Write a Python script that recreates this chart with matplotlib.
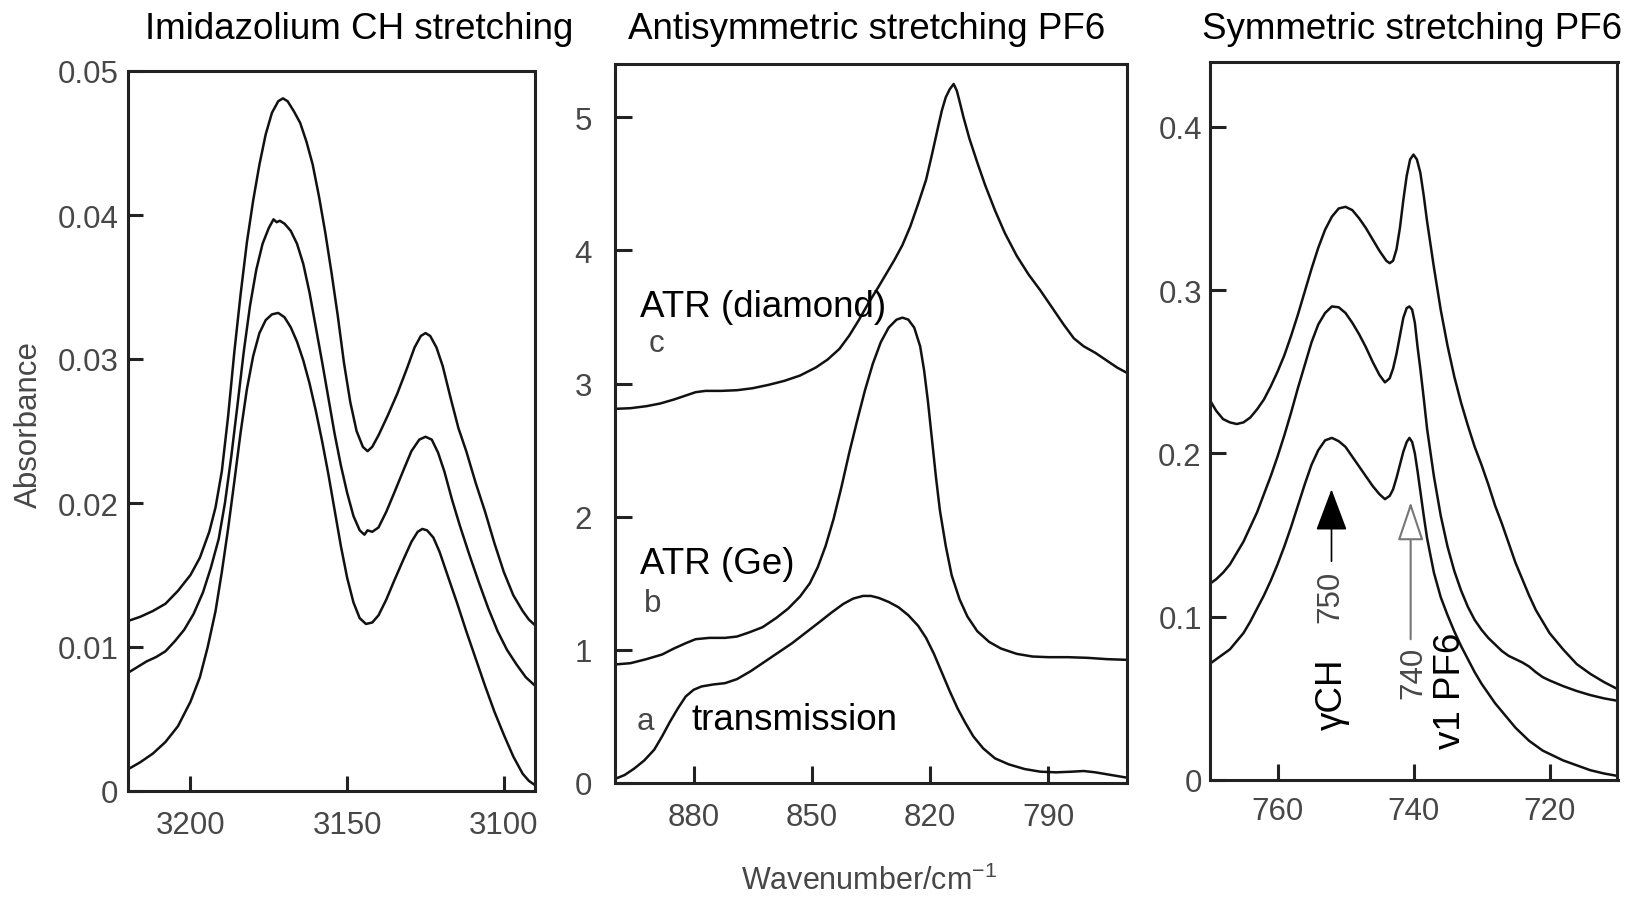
import matplotlib
matplotlib.use('Agg')
import matplotlib.pyplot as plt

# ---------------- data ----------------
# Panel 1: Imidazolium CH stretching (three spectra)
ch_wn_top = [3220, 3216, 3212, 3208, 3204, 3200, 3197, 3194, 3192, 3190, 3188, 3186, 3184, 3182,
             3180, 3178, 3176, 3174, 3172, 3170.5, 3169, 3167, 3165, 3163, 3161, 3159, 3157, 3155,
             3153, 3151, 3149, 3147, 3145, 3143.5, 3142, 3140, 3137, 3134, 3131, 3128.5, 3126.5,
             3125, 3123.5, 3121.5, 3119.5, 3117, 3114.5, 3112, 3109, 3106, 3103, 3100, 3097, 3094,
             3092, 3090]
ch_abs_top = [0.0118, 0.0121, 0.0125, 0.0130, 0.0139, 0.0150, 0.0162, 0.0180, 0.0197, 0.0222,
              0.0260, 0.0305, 0.0345, 0.0381, 0.0410, 0.0435, 0.0456, 0.0471, 0.0479, 0.0481,
              0.0479, 0.0472, 0.0464, 0.0451, 0.0435, 0.0413, 0.0388, 0.0360, 0.0330, 0.0297,
              0.0270, 0.0250, 0.0239, 0.0236, 0.0239, 0.0247, 0.0261, 0.0276, 0.0293, 0.0308,
              0.0316, 0.0318, 0.0316, 0.0308, 0.0295, 0.0273, 0.0252, 0.0236, 0.0214, 0.0194,
              0.0172, 0.0152, 0.0136, 0.0125, 0.0119, 0.0115]

ch_wn_mid = [3220, 3217, 3214, 3211, 3208, 3205, 3202, 3199, 3196, 3193.5, 3191, 3189, 3187, 3185,
             3183, 3181, 3179, 3177, 3175, 3173.5, 3172.5, 3171.5, 3170, 3168, 3166, 3164, 3162,
             3160, 3158, 3156, 3154, 3152, 3150, 3148, 3146, 3144.5, 3143.5, 3142, 3140, 3137.5,
             3135, 3132, 3129.5, 3127, 3125, 3123, 3121, 3119, 3116.5, 3114, 3111, 3108, 3105, 3102,
             3099, 3096, 3093, 3090]
ch_abs_mid = [0.0082, 0.0086, 0.0090, 0.0093, 0.0097, 0.0104, 0.0112, 0.0123, 0.0138, 0.0155,
              0.0175, 0.0200, 0.0232, 0.0268, 0.0305, 0.0337, 0.0362, 0.0380, 0.0391, 0.0397,
              0.0395, 0.0396, 0.0394, 0.0389, 0.0380, 0.0366, 0.0346, 0.0322, 0.0298, 0.0273,
              0.0248, 0.0226, 0.0207, 0.0191, 0.0181, 0.0178, 0.0181, 0.0180, 0.0183, 0.0194,
              0.0207, 0.0223, 0.0236, 0.0244, 0.0246, 0.0244, 0.0235, 0.0222, 0.0202, 0.0184,
              0.0164, 0.0145, 0.0127, 0.0111, 0.0098, 0.0088, 0.0079, 0.0073]

ch_wn_bot = [3220, 3216, 3212, 3208, 3204, 3200, 3197, 3194.5, 3192, 3190, 3188, 3186, 3184, 3182,
             3180, 3178, 3176, 3174, 3172, 3170, 3168, 3166, 3164, 3162, 3160, 3158, 3156, 3154,
             3152, 3150, 3148, 3146, 3144, 3142, 3140, 3137.5, 3135, 3132, 3129.5, 3127.5, 3126,
             3124.5, 3122.5, 3120.5, 3118, 3115, 3112, 3109, 3106, 3103, 3100, 3097, 3094, 3092,
             3090]
ch_abs_bot = [0.0015, 0.0020, 0.0026, 0.0034, 0.0045, 0.0062, 0.0079, 0.0100, 0.0125, 0.0152,
              0.0182, 0.0215, 0.0249, 0.0279, 0.0302, 0.0318, 0.0327, 0.0331, 0.0332, 0.0329,
              0.0322, 0.0312, 0.0299, 0.0283, 0.0264, 0.0243, 0.0220, 0.0195, 0.0170, 0.0148,
              0.0131, 0.0120, 0.0116, 0.0117, 0.0122, 0.0133, 0.0146, 0.0161, 0.0173, 0.0180,
              0.0182, 0.0181, 0.0176, 0.0166, 0.0150, 0.0131, 0.0111, 0.0092, 0.0073, 0.0055,
              0.0039, 0.0024, 0.0012, 0.0007, 0.0004]

# Panel 2: Antisymmetric stretching PF6 (c = ATR diamond, b = ATR Ge, a = transmission)
as_wn_c = [900, 896, 892, 888.5, 885, 882, 879.5, 877, 873, 869, 865, 861, 857, 853, 849, 846, 843,
           840.5, 838, 835.5, 833, 831, 829, 827, 825, 823, 821, 819.5, 818, 817, 816, 815, 814,
           813.2, 812.5, 811.5, 810, 808, 806, 803.5, 801, 798, 795, 792, 789, 786, 783.5, 781,
           778, 775, 772.5, 770]
as_abs_c = [2.81, 2.815, 2.83, 2.85, 2.88, 2.91, 2.935, 2.945, 2.945, 2.95, 2.965, 2.99, 3.02, 3.06,
            3.12, 3.18, 3.26, 3.36, 3.48, 3.61, 3.73, 3.83, 3.93, 4.04, 4.18, 4.35, 4.53, 4.72,
            4.92, 5.05, 5.15, 5.21, 5.25, 5.20, 5.12, 5.00, 4.84, 4.66, 4.49, 4.30, 4.13, 3.96,
            3.82, 3.70, 3.57, 3.44, 3.34, 3.28, 3.23, 3.17, 3.12, 3.08]

as_wn_b = [900, 896, 892, 888, 885, 882, 879.5, 876, 872, 869, 866, 862.5, 859, 856, 853, 850.5,
           848.5, 846.5, 844.5, 842.5, 840.5, 838.5, 836.5, 834.5, 832.5, 830.5, 828.5, 827, 825.5,
           824, 822.5, 821.5, 820.5, 819.5, 818.5, 817.5, 816, 814.5, 812.5, 810.5, 808, 805, 802,
           798, 794, 790, 785, 780, 775, 770]
as_abs_b = [0.89, 0.90, 0.93, 0.965, 1.01, 1.05, 1.08, 1.09, 1.09, 1.10, 1.13, 1.17, 1.24, 1.31,
            1.40, 1.50, 1.62, 1.78, 1.98, 2.22, 2.48, 2.72, 2.95, 3.15, 3.31, 3.42, 3.48, 3.495,
            3.48, 3.42, 3.28, 3.10, 2.86, 2.58, 2.30, 2.05, 1.78, 1.56, 1.38, 1.25, 1.14, 1.06,
            1.01, 0.97, 0.95, 0.945, 0.945, 0.94, 0.93, 0.925]

as_wn_a = [900, 897.5, 895, 892.5, 890, 888, 886, 884, 882, 880, 878, 875, 872, 869, 865.5, 862,
           858.5, 855, 851.5, 848, 845, 842, 839.5, 837, 835, 833, 830.5, 828, 825.5, 823, 821,
           819, 817, 815, 813, 811, 809, 806.5, 803.5, 800, 796, 792, 788, 784, 781, 778, 774, 770]
as_abs_a = [0.03, 0.06, 0.11, 0.17, 0.25, 0.35, 0.46, 0.56, 0.65, 0.70, 0.725, 0.74, 0.75, 0.78,
            0.84, 0.91, 0.98, 1.05, 1.13, 1.21, 1.28, 1.345, 1.385, 1.405, 1.405, 1.39, 1.36, 1.32,
            1.26, 1.18, 1.09, 0.97, 0.83, 0.69, 0.56, 0.45, 0.35, 0.26, 0.185, 0.14, 0.105, 0.085,
            0.08, 0.085, 0.09, 0.08, 0.06, 0.04]

# Panel 3: Symmetric stretching PF6
s_wn_top = [770, 769, 768, 767, 766, 765, 764, 763, 762, 761, 760, 759, 758, 757, 756, 755, 754, 753,
            752, 751, 750, 749, 748, 747, 746, 745, 744, 743.5, 743, 742.5, 742, 741.5, 741, 740.5,
            740, 739.5, 739, 738.5, 738, 737, 736, 735, 734, 733, 732, 731, 730, 729, 728, 727, 726,
            725, 724, 723, 722, 721, 720, 718, 716, 714, 712, 710]
s_abs_top = [0.233, 0.226, 0.221, 0.219, 0.218, 0.219, 0.222, 0.227, 0.233, 0.241, 0.250, 0.260,
             0.272, 0.285, 0.299, 0.313, 0.326, 0.337, 0.345, 0.350, 0.351, 0.349, 0.344, 0.338,
             0.331, 0.324, 0.318, 0.3165, 0.318, 0.325, 0.338, 0.355, 0.370, 0.380, 0.383, 0.380,
             0.372, 0.358, 0.342, 0.314, 0.288, 0.266, 0.247, 0.231, 0.217, 0.204, 0.193, 0.181,
             0.168, 0.157, 0.145, 0.133, 0.123, 0.113, 0.104, 0.097, 0.090, 0.080, 0.071, 0.065,
             0.060, 0.0557]

s_wn_mid = [770, 769, 768, 767, 766, 765, 764, 763, 762, 761, 760, 759, 758, 757, 756, 755, 754, 753,
            752, 751, 750, 749, 748, 747, 746, 745, 744.2, 743.5, 743, 742.5, 742, 741.5, 741,
            740.6, 740.2, 739.8, 739.4, 739, 738.5, 738, 737, 736, 735, 734, 733, 732, 731, 730,
            729, 728, 727, 726, 725, 724, 723, 722, 721, 720, 718, 716, 714, 712, 710]
s_abs_mid = [0.120, 0.123, 0.127, 0.132, 0.139, 0.146, 0.155, 0.164, 0.175, 0.186, 0.198, 0.211,
             0.225, 0.240, 0.254, 0.268, 0.279, 0.286, 0.290, 0.2895, 0.286, 0.280, 0.273, 0.265,
             0.256, 0.248, 0.2435, 0.246, 0.252, 0.261, 0.272, 0.283, 0.289, 0.290, 0.288, 0.280,
             0.265, 0.252, 0.234, 0.215, 0.186, 0.162, 0.143, 0.128, 0.116, 0.106, 0.098, 0.092,
             0.087, 0.083, 0.079, 0.076, 0.074, 0.072, 0.0695, 0.066, 0.063, 0.061, 0.0575, 0.0545,
             0.052, 0.050, 0.0485]

s_wn_bot = [770, 769, 768, 767, 766, 765, 764, 763, 762, 761, 760, 759, 758, 757, 756, 755, 754, 753,
            752, 751, 750, 749, 748, 747, 746, 745, 744.2, 743.5, 743, 742.5, 742, 741.5, 741,
            740.6, 740.2, 739.8, 739.4, 739, 738.5, 738, 737, 736, 735, 734, 733, 732, 731, 730,
            729, 728, 727, 726, 725, 724, 723, 722, 721, 720, 718, 716, 714, 712, 710]
s_abs_bot = [0.071, 0.074, 0.077, 0.080, 0.085, 0.090, 0.097, 0.105, 0.113, 0.122, 0.132, 0.143,
             0.155, 0.168, 0.181, 0.193, 0.202, 0.208, 0.2095, 0.2075, 0.204, 0.198, 0.192, 0.186,
             0.180, 0.175, 0.172, 0.174, 0.178, 0.185, 0.193, 0.201, 0.207, 0.2095, 0.207, 0.200,
             0.189, 0.177, 0.162, 0.148, 0.127, 0.112, 0.101, 0.091, 0.082, 0.074, 0.066, 0.059,
             0.053, 0.047, 0.042, 0.037, 0.032, 0.028, 0.024, 0.021, 0.018, 0.016, 0.012, 0.009,
             0.006, 0.004, 0.0025]

# ticks
p1_xticks = [3200, 3150, 3100]
p1_yticks = [0, 0.01, 0.02, 0.03, 0.04, 0.05]
p1_ylabels = ['0', '0.01', '0.02', '0.03', '0.04', '0.05']
p2_xticks = [880, 850, 820, 790]
p2_yticks = [0, 1, 2, 3, 4, 5]
p2_ylabels = ['0', '1', '2', '3', '4', '5']
p3_xticks = [760, 740, 720]
p3_yticks = [0, 0.1, 0.2, 0.3, 0.4]
p3_ylabels = ['0', '0.1', '0.2', '0.3', '0.4']

titles = ['Imidazolium CH stretching', 'Antisymmetric stretching PF6', 'Symmetric stretching PF6']

# ---------------- figure ----------------
W, H, DPI = 1633, 903, 100
plt.rcParams['font.family'] = ['Liberation Sans', 'DejaVu Sans']
plt.rcParams['mathtext.fontset'] = 'custom'
plt.rcParams['mathtext.rm'] = 'Liberation Sans'
plt.rcParams['mathtext.it'] = 'Liberation Sans:italic'
plt.rcParams['mathtext.bf'] = 'Liberation Sans:bold'

GRAY = '#474747'
INK = '#111111'
BIG = 26.5
SMALL = 22.5

fig = plt.figure(figsize=(W / DPI, H / DPI), dpi=DPI)


def rect(l, t, r, b):
    return [l / W, 1 - b / H, (r - l) / W, (b - t) / H]


def fx(x):
    return x / W


def fy(y):
    return 1 - y / H


ax1 = fig.add_axes(rect(127.8, 72, 535.2, 792))
ax2 = fig.add_axes(rect(614.8, 65, 1127, 784))
ax3 = fig.add_axes(rect(1209.5, 62.5, 1617.5, 781))


def style(ax, xlim, ylim, xt, yt, ylabs, ypad, xpad, tlen):
    ax.set_xlim(*xlim)
    ax.set_ylim(*ylim)
    ax.set_xticks(xt)
    ax.set_xticklabels([str(v) for v in xt])
    ax.set_yticks(yt)
    ax.set_yticklabels(ylabs)
    ax.tick_params(direction='in', length=tlen, width=2.2, color='#222222',
                   labelsize=SMALL, labelcolor=GRAY)
    ax.tick_params(axis='y', pad=ypad)
    ax.tick_params(axis='x', pad=xpad)
    for s in ax.spines.values():
        s.set_linewidth(2.2)
        s.set_color('#222222')


LW = 1.8
for wn, ab in [(ch_wn_top, ch_abs_top), (ch_wn_mid, ch_abs_mid), (ch_wn_bot, ch_abs_bot)]:
    ax1.plot(wn, ab, color=INK, lw=LW, solid_joinstyle='round')
for wn, ab in [(as_wn_c, as_abs_c), (as_wn_b, as_abs_b), (as_wn_a, as_abs_a)]:
    ax2.plot(wn, ab, color=INK, lw=LW, solid_joinstyle='round')
for wn, ab in [(s_wn_top, s_abs_top), (s_wn_mid, s_abs_mid), (s_wn_bot, s_abs_bot)]:
    ax3.plot(wn, ab, color=INK, lw=LW, solid_joinstyle='round')

style(ax1, (3220, 3090), (0, 0.05), p1_xticks, p1_yticks, p1_ylabels, 6.7, 14.0, 11)
style(ax2, (900, 770), (0, 5.4), p2_xticks, p2_yticks, p2_ylabels, 16.5, 13.5, 12)
style(ax3, (770, 710), (0, 0.44), p3_xticks, p3_yticks, p3_ylabels, 5.5, 11.5, 11.5)

# titles
fig.text(fx(359), fy(39), titles[0], ha='center', va='baseline', fontsize=BIG, color='black')
fig.text(fx(867), fy(39), titles[1], ha='center', va='baseline', fontsize=BIG, color='black')
fig.text(fx(1412), fy(39), titles[2], ha='center', va='baseline', fontsize=BIG, color='black')

# axis labels
fig.text(fx(29), fy(424), 'Absorbance', rotation=90, ha='center', va='center',
         fontsize=SMALL, color=GRAY)
fig.text(fx(741), fy(890), 'Wavenumber/cm$^{-1}$', ha='left', va='baseline',
         fontsize=22, color=GRAY)

# panel 2 labels
fig.text(fx(640), fy(316.7), 'ATR (diamond)', ha='left', va='baseline', fontsize=BIG, color='black')
fig.text(fx(656), fy(351.7), 'c', ha='center', va='baseline', fontsize=SMALL, color=GRAY)
fig.text(fx(640), fy(574), 'ATR (Ge)', ha='left', va='baseline', fontsize=BIG, color='black')
fig.text(fx(653), fy(611.7), 'b', ha='center', va='baseline', fontsize=SMALL, color=GRAY)
fig.text(fx(645), fy(730), 'a', ha='center', va='baseline', fontsize=SMALL, color=GRAY)
fig.text(fx(691.7), fy(730), 'transmission', ha='left', va='baseline', fontsize=BIG, color='black')

# panel 3 labels
fig.text(fx(1330.5), fy(596.7), '750', rotation=90, ha='center', va='center',
         fontsize=SMALL, color=GRAY)
fig.text(fx(1332), fy(694), 'γCH', rotation=90, ha='center', va='center',
         fontsize=BIG, color='black')
fig.text(fx(1413.3), fy(672.5), '740', rotation=90, ha='center', va='center',
         fontsize=SMALL, color=GRAY)
fig.text(fx(1451), fy(691), 'v1 PF6', rotation=90, ha='center', va='center',
         fontsize=BIG, color='black')

# arrows
ax3.annotate('', xy=(752.06, 0.178), xytext=(752.06, 0.134),
             arrowprops=dict(arrowstyle='-|>,head_length=1.33,head_width=0.5',
                             mutation_scale=20, color='black', lw=1.2,
                             shrinkA=0, shrinkB=0))
ax3.annotate('', xy=(740.42, 0.1702), xytext=(740.42, 0.0862),
             arrowprops=dict(arrowstyle='-|>,head_length=1.22,head_width=0.41',
                             mutation_scale=20, fc='white', ec='#777777', lw=1.5,
                             shrinkA=0, shrinkB=0))

fig.savefig('out.png', dpi=DPI)
